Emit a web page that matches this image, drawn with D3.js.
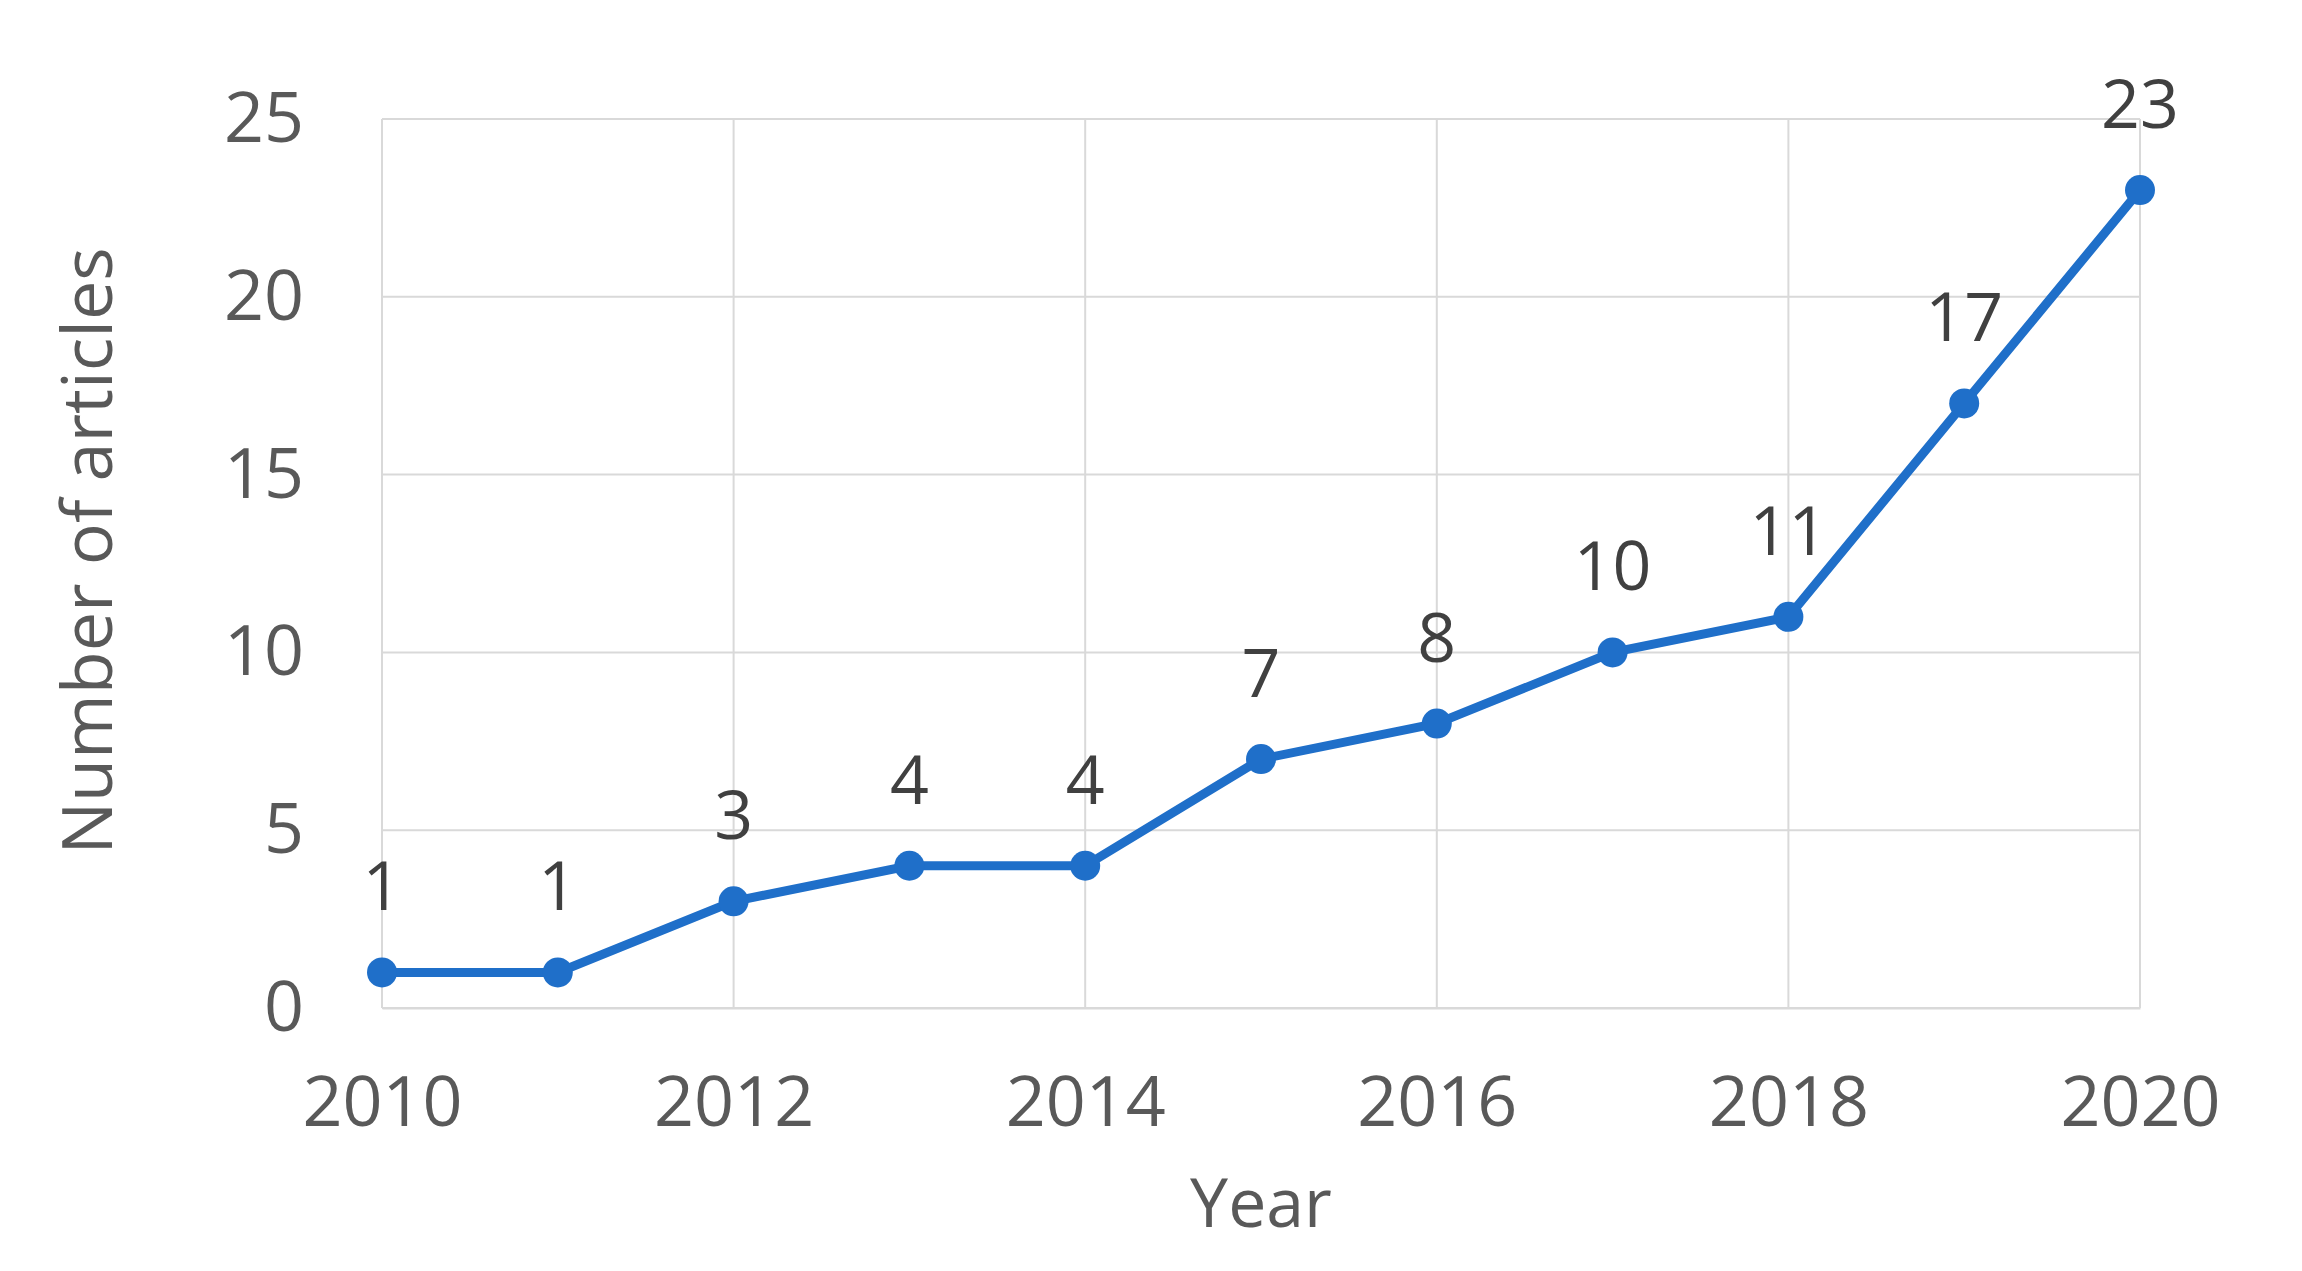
<!DOCTYPE html>
<html>
<head>
<meta charset="utf-8">
<script src="https://cdn.jsdelivr.net/npm/d3@7"></script>
<style>
  body { margin: 0; background: #fff; }
  text { font-family: "Open Sans", "Liberation Sans", sans-serif; }
</style>
</head>
<body>
<svg id="chart"></svg>
<script>
const years = [2010, 2011, 2012, 2013, 2014, 2015, 2016, 2017, 2018, 2019, 2020];
const articles = [1, 1, 3, 4, 4, 7, 8, 10, 11, 17, 23];
const xTicks = [2010, 2012, 2014, 2016, 2018, 2020];
const yTicks = [0, 5, 10, 15, 20, 25];

const width = 2302;
const height = 1271;
const margin = { top: 119, right: 162, bottom: 263, left: 382 };

const svg = d3.select("#chart").attr("width", width).attr("height", height);

const x_scale = d3.scaleLinear()
  .domain([2010, 2020])
  .range([margin.left, width - margin.right]);

const y_scale = d3.scaleLinear()
  .domain([0, 25])
  .range([height - margin.bottom, margin.top]);

// gridlines
svg.append("g")
  .selectAll("line.h")
  .data(yTicks)
  .enter()
  .append("line")
  .attr("x1", margin.left)
  .attr("x2", width - margin.right)
  .attr("y1", (d) => y_scale(d))
  .attr("y2", (d) => y_scale(d))
  .attr("stroke", "#d9d9d9")
  .attr("stroke-width", 2);

svg.append("g")
  .selectAll("line.v")
  .data(xTicks)
  .enter()
  .append("line")
  .attr("x1", (d) => x_scale(d))
  .attr("x2", (d) => x_scale(d))
  .attr("y1", margin.top)
  .attr("y2", height - margin.bottom)
  .attr("stroke", "#d9d9d9")
  .attr("stroke-width", 2);

// axes
const xAxis = svg.append("g")
  .attr("transform", `translate(0,${height - margin.bottom})`)
  .call(d3.axisBottom(x_scale).tickValues(xTicks).tickFormat(d3.format("d")).tickSize(0).tickPadding(68));
xAxis.select(".domain").attr("stroke", "#d9d9d9").attr("stroke-width", 2);
xAxis.selectAll("text").attr("font-size", 70).attr("fill", "#595959");

const yAxis = svg.append("g")
  .attr("transform", `translate(${margin.left},0)`)
  .call(d3.axisLeft(y_scale).tickValues(yTicks).tickSize(0).tickPadding(78));
yAxis.select(".domain").remove();
yAxis.selectAll("text").attr("font-size", 70).attr("fill", "#595959");

// axis titles
svg.append("text")
  .attr("x", (margin.left + width - margin.right) / 2)
  .attr("y", 1227)
  .attr("text-anchor", "middle")
  .attr("font-size", 68)
  .attr("fill", "#595959")
  .text("Year");

svg.append("text")
  .attr("transform", `translate(112,551) rotate(-90)`)
  .attr("text-anchor", "middle")
  .attr("font-size", 70)
  .attr("fill", "#595959")
  .text("Number of articles");

// line
const line = d3.line()
  .x((d, i) => x_scale(years[i]))
  .y((d) => y_scale(d));

svg.append("path")
  .datum(articles)
  .attr("d", line)
  .attr("fill", "none")
  .attr("stroke", "#1f6fc9")
  .attr("stroke-width", 9);

svg.selectAll(".pt")
  .data(articles)
  .enter()
  .append("circle")
  .attr("cx", (d, i) => x_scale(years[i]))
  .attr("cy", (d) => y_scale(d))
  .attr("r", 15)
  .attr("fill", "#1f6fc9");

svg.selectAll(".lbl")
  .data(articles)
  .enter()
  .append("text")
  .attr("x", (d, i) => x_scale(years[i]))
  .attr("y", (d) => y_scale(d) - 62)
  .attr("text-anchor", "middle")
  .attr("font-size", 68)
  .attr("fill", "#404040")
  .text((d) => d);
</script>
</body>
</html>
